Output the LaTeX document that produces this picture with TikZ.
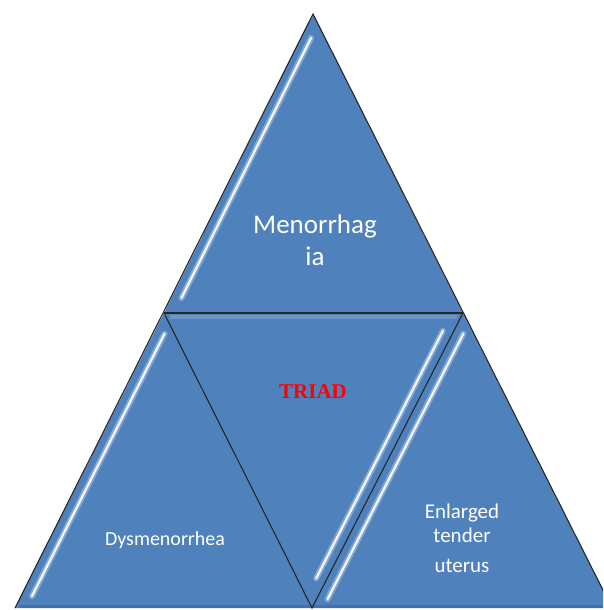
\documentclass[tikz,border=0pt]{standalone}
\usepackage{fontspec}
\setmainfont{Carlito}
\newfontfamily\triadfont{Liberation Serif}
\usetikzlibrary{calc}
\definecolor{tblue}{HTML}{4F81BD}
\definecolor{tred}{HTML}{FF0000}
\tikzset{
  tri/.style={fill=tblue},
  edge/.style={draw=black!85, line width=1.1pt, line join=miter},
  glow/.style={draw=white, line width=6pt, opacity=0.3, line cap=round},
  gloss/.style={draw=white, line width=2.2pt, opacity=0.9, line cap=round},
  bevel/.style={draw=white, line width=4pt, opacity=0.18},
  lbl/.style={text=white, anchor=base, inner sep=0pt},
}
\begin{document}
\begin{tikzpicture}[x=1pt, y=-1pt]
\useasboundingbox (0,0) rectangle (603,610);
\coordinate (A) at (313,14);
\coordinate (L) at (164,313);
\coordinate (R) at (463,313);
\coordinate (BL) at (15,608);
\coordinate (BM) at (312,608);
\coordinate (BR) at (612,608);
\begin{scope}
\clip (0,0) rectangle (603,610);
% triangles
\path[tri] (A) -- (L) -- (R) -- cycle;
\path[tri] (L) -- (BL) -- (BM) -- cycle;
\path[tri] (L) -- (R) -- (BM) -- cycle;
\path[tri] (R) -- (BM) -- (BR) -- cycle;
% bevel highlights
\draw[bevel] ($(L)+(6,4)$) -- ($(R)+(-6,4)$);
\draw[draw=black, opacity=0.12, line width=3pt] ($(BL)+(4,-2)$) -- ($(BR)+(-4,-2)$);
% glossy stripes
\draw[glow]  ($(A)!0.08!(L)+(10,0)$) -- ($(A)!0.95!(L)+(10,0)$);
\draw[gloss] ($(A)!0.08!(L)+(10,0)$) -- ($(A)!0.95!(L)+(10,0)$);
\draw[glow]  ($(L)!0.07!(BL)+(11,0)$) -- ($(L)!0.96!(BL)+(11,0)$);
\draw[gloss] ($(L)!0.07!(BL)+(11,0)$) -- ($(L)!0.96!(BL)+(11,0)$);
\draw[glow]  ($(R)!0.06!(BM)+(-11,0)$) -- ($(R)!0.9!(BM)+(-11,0)$);
\draw[gloss] ($(R)!0.06!(BM)+(-11,0)$) -- ($(R)!0.9!(BM)+(-11,0)$);
\draw[glow]  ($(R)!0.07!(BM)+(11,0)$) -- ($(R)!0.97!(BM)+(11,0)$);
\draw[gloss] ($(R)!0.07!(BM)+(11,0)$) -- ($(R)!0.97!(BM)+(11,0)$);
% outlines (no stroke along the bottom)
\draw[edge] (BL) -- (A) -- (BR);
\draw[edge] (L) -- (R);
\draw[edge] (L) -- (BM) -- (R);
\end{scope}
% labels
\node[lbl, font=\fontsize{27}{32}\selectfont] (m1) at (315,233) {Menorrhag};
\node[lbl, font=\fontsize{27}{32}\selectfont] (m2) at (315,265) {ia};
\node[lbl, text=tred, font=\triadfont\bfseries\fontsize{21}{24}\selectfont] (tr) at (313,398) {TRIAD};
\node[lbl, font=\fontsize{20}{24}\selectfont] (dy) at (165,545) {Dysmenorrhea};
\node[lbl, font=\fontsize{21}{24}\selectfont] (e1) at (462,518) {Enlarged};
\node[lbl, font=\fontsize{21}{24}\selectfont] (e2) at (462,542) {tender};
\node[lbl, font=\fontsize{21}{24}\selectfont] (e3) at (462,572) {uterus};
\end{tikzpicture}
\end{document}
